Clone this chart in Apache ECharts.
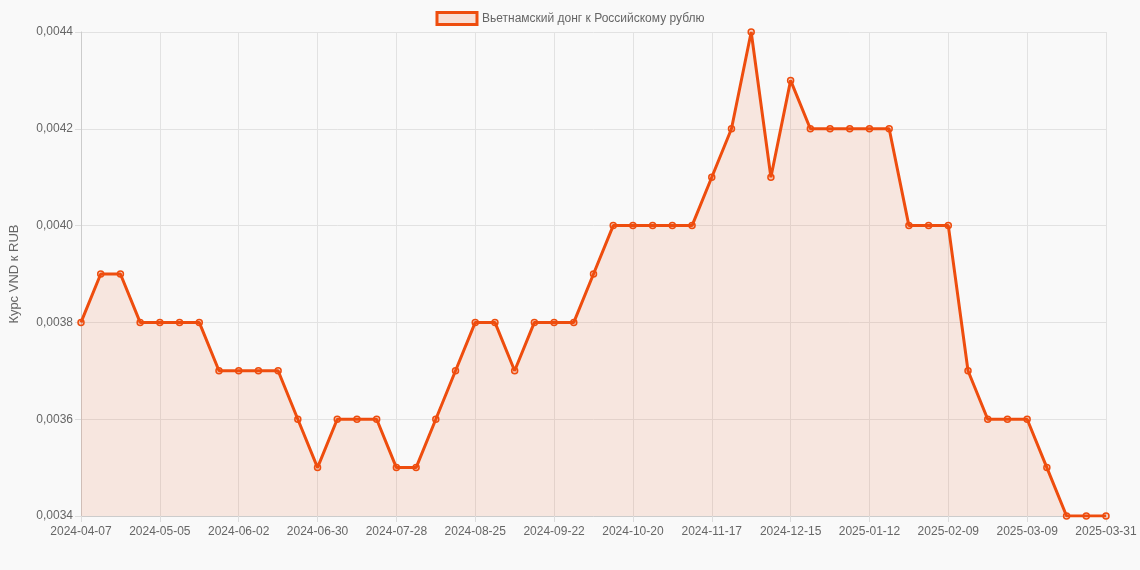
<!DOCTYPE html>
<html>
<head>
<meta charset="utf-8">
<script src="https://cdn.jsdelivr.net/npm/echarts@6/dist/echarts.min.js"></script>
<style>
  html, body { margin: 0; padding: 0; background: #f9f9f9; }
  #chart { width: 1140px; height: 570px; }
</style>
</head>
<body>
<div id="chart"></div>
<script>
var dates = [
  '2024-04-07', '2024-04-14', '2024-04-21', '2024-04-28', '2024-05-05', '2024-05-12', '2024-05-19', '2024-05-26',
  '2024-06-02', '2024-06-09', '2024-06-16', '2024-06-23', '2024-06-30', '2024-07-07', '2024-07-14', '2024-07-21',
  '2024-07-28', '2024-08-04', '2024-08-11', '2024-08-18', '2024-08-25', '2024-09-01', '2024-09-08', '2024-09-15',
  '2024-09-22', '2024-09-29', '2024-10-06', '2024-10-13', '2024-10-20', '2024-10-27', '2024-11-03', '2024-11-10',
  '2024-11-17', '2024-11-24', '2024-12-01', '2024-12-08', '2024-12-15', '2024-12-22', '2024-12-29', '2025-01-05',
  '2025-01-12', '2025-01-19', '2025-01-26', '2025-02-02', '2025-02-09', '2025-02-16', '2025-02-23', '2025-03-02',
  '2025-03-09', '2025-03-16', '2025-03-23', '2025-03-30', '2025-03-31'
];

var rates = [
  0.0038, 0.0039, 0.0039, 0.0038, 0.0038, 0.0038, 0.0038, 0.0037,
  0.0037, 0.0037, 0.0037, 0.0036, 0.0035, 0.0036, 0.0036, 0.0036,
  0.0035, 0.0035, 0.0036, 0.0037, 0.0038, 0.0038, 0.0037, 0.0038,
  0.0038, 0.0038, 0.0039, 0.0040, 0.0040, 0.0040, 0.0040, 0.0040,
  0.0041, 0.0042, 0.0044, 0.0041, 0.0043, 0.0042, 0.0042, 0.0042,
  0.0042, 0.0042, 0.0040, 0.0040, 0.0040, 0.0037, 0.0036, 0.0036,
  0.0036, 0.0035, 0.0034, 0.0034, 0.0034
];

var seriesName = 'Вьетнамский донг к Российскому рублю';
var lineColor = '#ee4d0e';

var chart = echarts.init(document.getElementById('chart'));
chart.setOption({
  backgroundColor: '#f9f9f9',
  animation: false,
  textStyle: { fontFamily: 'Arial, "Liberation Sans", sans-serif' },
  legend: {
    top: 6,
    left: 'center',
    itemWidth: 40,
    itemHeight: 12,
    icon: 'rect',
    data: [{
      name: seriesName,
      itemStyle: { color: 'rgba(238,77,14,0.15)', borderColor: lineColor, borderWidth: 3 }
    }],
    textStyle: { color: '#666', fontSize: 12 }
  },
  grid: { left: 75, right: 34, top: 32, bottom: 54 },
  xAxis: {
    type: 'category',
    data: dates,
    boundaryGap: false,
    axisLine: { lineStyle: { color: '#ccc' } },
    axisTick: { show: true, interval: 3, length: 6, lineStyle: { color: '#ddd' } },
    axisLabel: { interval: 3, color: '#666', fontSize: 12, margin: 10 },
    splitLine: { show: true, interval: 3, lineStyle: { color: '#e2e2e2' } }
  },
  yAxis: {
    type: 'value',
    min: 0.0034,
    max: 0.0044,
    interval: 0.0002,
    name: 'Курс VND к RUB',
    nameLocation: 'middle',
    nameGap: 60,
    nameTextStyle: { color: '#666', fontSize: 13 },
    axisLine: { show: true, lineStyle: { color: '#ccc' } },
    axisTick: { show: true, length: 6, lineStyle: { color: '#ddd' } },
    axisLabel: {
      color: '#666', fontSize: 12,
      formatter: function (v) { return v.toFixed(4).replace('.', ','); }
    },
    splitLine: { lineStyle: { color: '#e2e2e2' } }
  },
  series: [{
    name: seriesName,
    type: 'line',
    data: rates,
    symbol: 'circle',
    symbolSize: 6,
    itemStyle: { color: 'rgba(238,77,14,0.2)', borderColor: lineColor, borderWidth: 1.5 },
    lineStyle: { color: lineColor, width: 3 },
    areaStyle: { color: 'rgba(238,77,14,0.15)' }
  }]
});
</script>
</body>
</html>
